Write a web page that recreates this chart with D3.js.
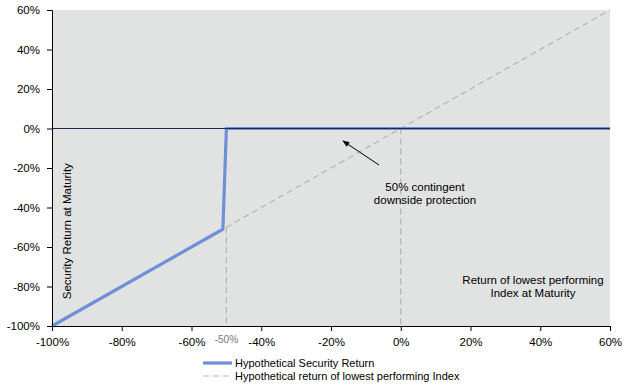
<!DOCTYPE html>
<html>
<head>
<meta charset="utf-8">
<script src="https://cdn.jsdelivr.net/npm/d3@7"></script>
<style>
  body { margin: 0; background: #fff; }
  svg { font-family: "Liberation Sans", Arial, sans-serif; }
</style>
</head>
<body>
<svg id="chart" width="631" height="389"></svg>
<script>
// security payoff (x = index return, y = security return), in %
const securityX = [-100, -51, -50, 60];
const securityY = [-100, -51, 0, 0];
// lowest performing index (1:1 line)
const indexX = [-100, 60];
const indexY = [-100, 60];
const xTicks = [-100, -80, -60, -40, -20, 0, 20, 40, 60];
const yTicks = [60, 40, 20, 0, -20, -40, -60, -80, -100];
const legendLabels = ["Hypothetical Security Return", "Hypothetical return of lowest performing Index"];

const svg = d3.select("#chart");
const margin = { top: 10, right: 21, bottom: 63, left: 52 };
const width = 631 - margin.left - margin.right;
const height = 389 - margin.top - margin.bottom;

const x = d3.scaleLinear().domain([-100, 60]).range([0, width]);
const y = d3.scaleLinear().domain([-100, 60]).range([height, 0]);

const g = svg.append("g").attr("transform", `translate(${margin.left},${margin.top})`);

g.append("rect")
  .attr("width", width)
  .attr("height", height)
  .attr("fill", "#e1e2e2");

const line = d3.line().x((d) => x(d[0])).y((d) => y(d[1]));

// dashed index line
g.append("path")
  .datum(d3.zip(indexX, indexY))
  .attr("d", line)
  .attr("fill", "none")
  .attr("stroke", "#b4b4b4")
  .attr("stroke-width", 1.2)
  .attr("stroke-dasharray", "6,4");

// vertical dashed guides
g.append("line")
  .attr("x1", x(-50)).attr("x2", x(-50))
  .attr("y1", y(-50)).attr("y2", height)
  .attr("stroke", "#b4b4b4").attr("stroke-width", 1.2)
  .attr("stroke-dasharray", "6,4");
g.append("line")
  .attr("x1", x(0)).attr("x2", x(0))
  .attr("y1", y(0)).attr("y2", height)
  .attr("stroke", "#b4b4b4").attr("stroke-width", 1.2)
  .attr("stroke-dasharray", "6,4");

// security line
g.append("path")
  .datum(d3.zip(securityX, securityY))
  .attr("d", line)
  .attr("fill", "none")
  .attr("stroke", "#6f8fd6")
  .attr("stroke-width", 3.2)
  .attr("stroke-linejoin", "miter");

// zero line
g.append("line")
  .attr("x1", 0).attr("x2", width)
  .attr("y1", y(0)).attr("y2", y(0))
  .attr("stroke", "#1e2a4a").attr("stroke-width", 1);

// axes
const yAxis = g.append("g")
  .call(d3.axisLeft(y).tickValues(yTicks).tickSize(5).tickPadding(7).tickFormat((d) => d + "%"));
const xAxis = g.append("g")
  .attr("transform", `translate(0,${height})`)
  .call(d3.axisBottom(x).tickValues(xTicks).tickSize(5).tickFormat((d) => d + "%"));
[xAxis, yAxis].forEach((a) => {
  a.select(".domain").attr("stroke", "#000");
  a.selectAll(".tick line").attr("stroke", "#000");
  a.selectAll("text").attr("font-size", 11.5).attr("fill", "#000")
    .attr("font-family", "Liberation Sans, Arial, sans-serif");
});
xAxis.selectAll("text").attr("dy", "1.05em");

// -50% marker label
g.append("text")
  .attr("x", x(-50)).attr("y", height + 17)
  .attr("text-anchor", "middle")
  .attr("font-size", 10).attr("fill", "#777")
  .text("-50%");

// y axis title
g.append("text")
  .attr("transform", `translate(${15},${y(-52)}) rotate(-90)`)
  .attr("text-anchor", "middle")
  .attr("dy", "0.35em")
  .attr("font-size", 11.5)
  .text("Security Return at Maturity");

// x axis title inside plot
const xt = g.append("text")
  .attr("text-anchor", "middle")
  .attr("font-size", 11.5);
xt.append("tspan").attr("x", 481).attr("y", 274).text("Return of lowest performing");
xt.append("tspan").attr("x", 481).attr("dy", 13).text("Index at Maturity");

// annotation
svg.append("defs").append("marker")
  .attr("id", "arrow")
  .attr("viewBox", "0 0 10 10")
  .attr("refX", 9).attr("refY", 5)
  .attr("markerWidth", 7).attr("markerHeight", 7)
  .attr("orient", "auto")
  .append("path").attr("d", "M0,1L10,5L0,9Z").attr("fill", "#000");

g.append("line")
  .attr("x1", 327).attr("y1", 155)
  .attr("x2", 291).attr("y2", 131)
  .attr("stroke", "#000").attr("stroke-width", 1)
  .attr("marker-end", "url(#arrow)");

const at = g.append("text")
  .attr("text-anchor", "middle")
  .attr("font-size", 11.5);
at.append("tspan").attr("x", 373).attr("y", 181).text("50% contingent");
at.append("tspan").attr("x", 373).attr("dy", 13).text("downside protection");

// legend
const legend = svg.append("g").attr("transform", "translate(203,363)");
legend.append("line")
  .attr("x1", 0).attr("x2", 29).attr("y1", 0).attr("y2", 0)
  .attr("stroke", "#6f8fd6").attr("stroke-width", 3.2);
legend.append("line")
  .attr("x1", 0).attr("x2", 29).attr("y1", 13).attr("y2", 13)
  .attr("stroke", "#b4b4b4").attr("stroke-width", 1.2)
  .attr("stroke-dasharray", "6,4");
legend.selectAll("text.lbl")
  .data(legendLabels)
  .enter()
  .append("text")
  .attr("class", "lbl")
  .attr("x", 32)
  .attr("y", (_, i) => i * 13)
  .attr("dy", "0.35em")
  .attr("font-size", 11)
  .text((d) => d);
</script>
</body>
</html>
